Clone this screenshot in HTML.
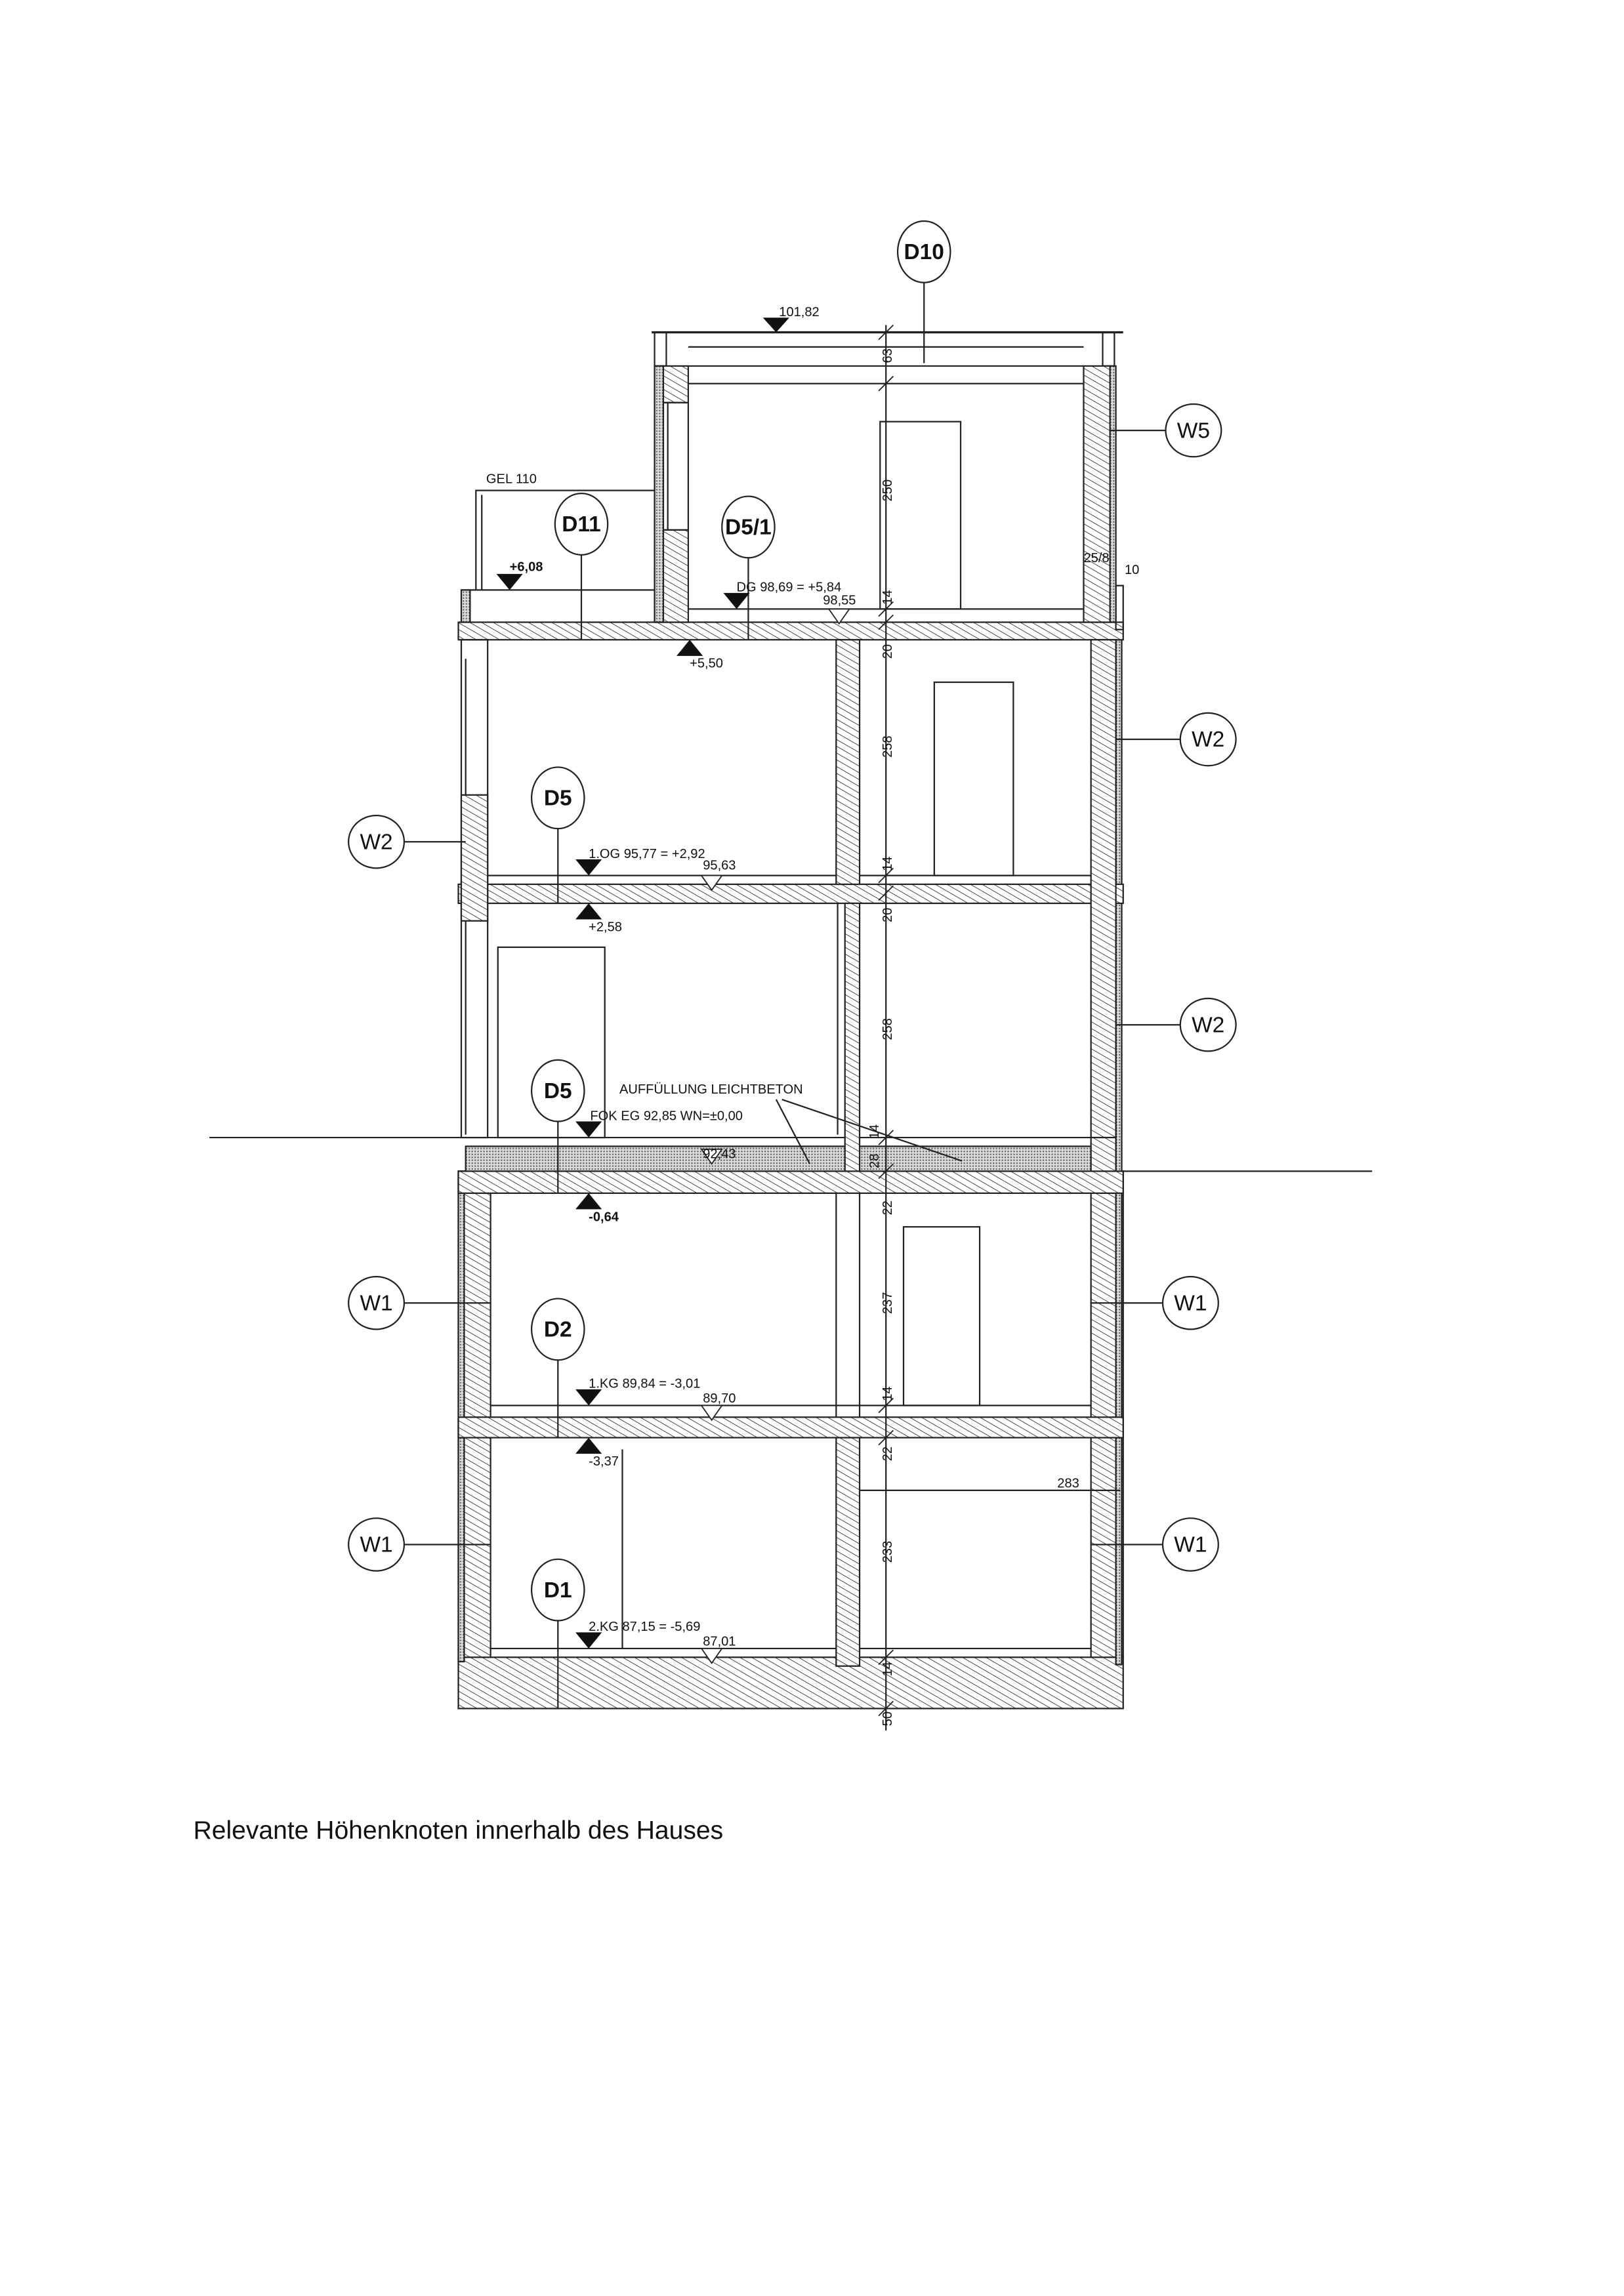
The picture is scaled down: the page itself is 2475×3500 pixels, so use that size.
<!DOCTYPE html>
<html><head><meta charset="utf-8"><style>
html,body{margin:0;padding:0;background:#fff}
svg{display:block}
text{font-family:"Liberation Sans",sans-serif;fill:#111}
</style></head><body>
<svg width="2475" height="3500" viewBox="0 0 1109 1568" preserveAspectRatio="xMinYMin meet" xmlns="http://www.w3.org/2000/svg">
<defs>
<pattern id="h" width="4" height="4" patternUnits="userSpaceOnUse" patternTransform="rotate(-60)">
<rect width="4" height="4" fill="#fff"/><line x1="0" y1="0" x2="0" y2="4" stroke="#333" stroke-width="0.8"/></pattern>
<pattern id="d" width="2" height="2" patternUnits="userSpaceOnUse">
<rect width="2" height="2" fill="#ddd"/><rect width="1" height="1" fill="#666"/></pattern>
</defs>
<g stroke="#222" stroke-width="1" fill="none">
<line x1="143" y1="777" x2="318" y2="777"/>
<line x1="765" y1="800" x2="937" y2="800"/>
<rect x="313" y="1132" width="454" height="35" fill="url(#h)"/>
<rect x="313" y="800" width="22" height="332" fill="url(#h)"/>
<rect x="745" y="800" width="22" height="332" fill="url(#h)"/>
<rect x="762" y="437" width="4" height="700" fill="url(#d)"/>
<rect x="313" y="800" width="4" height="335" fill="url(#d)"/>
<rect x="313" y="968" width="454" height="14" fill="url(#h)"/>
<line x1="335" y1="960" x2="745" y2="960"/>
<line x1="335" y1="1126" x2="745" y2="1126"/>
<rect x="313" y="800" width="454" height="15" fill="url(#h)"/>
<rect x="318" y="783" width="427" height="17" fill="url(#d)"/>
<line x1="318" y1="777" x2="745" y2="777"/>
<rect x="313" y="604" width="454" height="13" fill="url(#h)"/>
<line x1="333" y1="598" x2="745" y2="598"/>
<rect x="313" y="425" width="454" height="12" fill="url(#h)"/>
<line x1="470" y1="416" x2="740" y2="416"/>
<rect x="315" y="437" width="18" height="340"/>
<rect x="315" y="543" width="18" height="86" fill="url(#h)"/>
<line x1="318" y1="450" x2="318" y2="543"/><line x1="318" y1="629" x2="318" y2="775"/>
<rect x="745" y="437" width="17" height="340" fill="url(#h)"/>
<rect x="745" y="777" width="17" height="23" fill="url(#h)"/>
<rect x="571" y="437" width="16" height="167" fill="url(#h)"/>
<rect x="577" y="617" width="10" height="183" fill="url(#h)"/>
<line x1="572" y1="617" x2="572" y2="775"/>
<line x1="571" y1="815" x2="571" y2="968"/><line x1="587" y1="815" x2="587" y2="968"/>
<rect x="571" y="982" width="16" height="156" fill="url(#h)"/>
<line x1="425" y1="990" x2="425" y2="1126"/>
<line x1="445" y1="227" x2="767" y2="227" stroke-width="1.5"/>
<line x1="470" y1="237" x2="740" y2="237"/>
<line x1="470" y1="250" x2="740" y2="250"/>
<line x1="470" y1="262" x2="740" y2="262"/>
<rect x="447" y="227" width="8" height="23"/><rect x="753" y="227" width="8" height="23"/>
<rect x="447" y="250" width="23" height="25" fill="url(#h)"/>
<rect x="447" y="275" width="23" height="87"/>
<line x1="456" y1="275" x2="456" y2="362"/>
<rect x="447" y="362" width="23" height="63" fill="url(#h)"/>
<rect x="447" y="250" width="6" height="175" fill="url(#d)"/>
<rect x="740" y="250" width="18" height="175" fill="url(#h)"/>
<rect x="758" y="250" width="4" height="175" fill="url(#d)"/>
<rect x="762" y="400" width="5" height="30"/>
<polyline points="325,403 325,335 447,335"/>
<line x1="329" y1="338" x2="329" y2="403"/>
<line x1="315" y1="403" x2="447" y2="403"/>
<rect x="315" y="403" width="6" height="22" fill="url(#d)"/>
<rect x="601" y="288" width="55" height="128"/>
<rect x="638" y="466" width="54" height="132"/>
<rect x="340" y="647" width="73" height="130"/>
<rect x="617" y="838" width="52" height="122"/>
<line x1="605" y1="222" x2="605" y2="1182"/>
<g stroke-width="0.8">
<line x1="600" y1="232" x2="610" y2="222"/><line x1="600" y1="267" x2="610" y2="257"/>
<line x1="600" y1="421" x2="610" y2="411"/><line x1="600" y1="430" x2="610" y2="420"/>
<line x1="600" y1="603" x2="610" y2="593"/><line x1="600" y1="615" x2="610" y2="605"/>
<line x1="600" y1="782" x2="610" y2="772"/><line x1="600" y1="805" x2="610" y2="795"/>
<line x1="600" y1="965" x2="610" y2="955"/><line x1="600" y1="987" x2="610" y2="977"/>
<line x1="600" y1="1137" x2="610" y2="1127"/><line x1="600" y1="1172" x2="610" y2="1162"/>
</g>
<line x1="587" y1="1018" x2="765" y2="1018"/>
<line x1="530" y1="751" x2="553" y2="795"/>
<line x1="534" y1="751" x2="657" y2="793"/>
<line x1="631" y1="193" x2="631" y2="248"/>
<line x1="758" y1="294" x2="796" y2="294"/>
<line x1="397" y1="379" x2="397" y2="437"/>
<line x1="511" y1="381" x2="511" y2="437"/>
<line x1="762" y1="505" x2="806" y2="505"/>
<line x1="276" y1="575" x2="318" y2="575"/>
<line x1="381" y1="566" x2="381" y2="617"/>
<line x1="762" y1="700" x2="806" y2="700"/>
<line x1="381" y1="766" x2="381" y2="815"/>
<line x1="276" y1="890" x2="335" y2="890"/>
<line x1="745" y1="890" x2="794" y2="890"/>
<line x1="381" y1="929" x2="381" y2="982"/>
<line x1="276" y1="1055" x2="335" y2="1055"/>
<line x1="745" y1="1055" x2="794" y2="1055"/>
<line x1="381" y1="1107" x2="381" y2="1167"/>
<g fill="#fff">
<ellipse cx="631" cy="172" rx="18" ry="21"/>
<ellipse cx="815" cy="294" rx="19" ry="18"/>
<ellipse cx="397" cy="358" rx="18" ry="21"/>
<ellipse cx="511" cy="360" rx="18" ry="21"/>
<ellipse cx="825" cy="505" rx="19" ry="18"/>
<ellipse cx="257" cy="575" rx="19" ry="18"/>
<ellipse cx="381" cy="545" rx="18" ry="21"/>
<ellipse cx="825" cy="700" rx="19" ry="18"/>
<ellipse cx="381" cy="745" rx="18" ry="21"/>
<ellipse cx="257" cy="890" rx="19" ry="18"/>
<ellipse cx="813" cy="890" rx="19" ry="18"/>
<ellipse cx="381" cy="908" rx="18" ry="21"/>
<ellipse cx="257" cy="1055" rx="19" ry="18"/>
<ellipse cx="813" cy="1055" rx="19" ry="18"/>
<ellipse cx="381" cy="1086" rx="18" ry="21"/>
</g>
<line x1="510" y1="227" x2="550" y2="227"/>
</g>
<g fill="#111">
<polygon points="521,217 539,217 530,227"/>
<polygon points="339,392 357,392 348,403"/>
<polygon points="494,405 512,405 503,416"/>
<polygon points="462,448 480,448 471,437"/>
<polygon points="393,587 411,587 402,598"/>
<polygon points="393,628 411,628 402,617"/>
<polygon points="393,766 411,766 402,777"/>
<polygon points="393,826 411,826 402,815"/>
<polygon points="393,949 411,949 402,960"/>
<polygon points="393,993 411,993 402,982"/>
<polygon points="393,1115 411,1115 402,1126"/>
</g>
<g fill="#fff" stroke="#222" stroke-width="0.8">
<polygon points="566,416 580,416 573,426"/>
<polygon points="479,598 493,598 486,608"/>
<polygon points="479,785 493,785 486,795"/>
<polygon points="479,960 493,960 486,970"/>
<polygon points="479,1126 493,1126 486,1136"/>
</g>
<g font-size="15" text-anchor="middle">
<text x="631" y="177" font-weight="bold">D10</text>
<text x="815" y="299">W5</text>
<text x="397" y="363" font-weight="bold">D11</text>
<text x="511" y="365" font-weight="bold">D5/1</text>
<text x="825" y="510">W2</text>
<text x="257" y="580">W2</text>
<text x="381" y="550" font-weight="bold">D5</text>
<text x="825" y="705">W2</text>
<text x="381" y="750" font-weight="bold">D5</text>
<text x="257" y="895">W1</text>
<text x="813" y="895">W1</text>
<text x="381" y="913" font-weight="bold">D2</text>
<text x="257" y="1060">W1</text>
<text x="813" y="1060">W1</text>
<text x="381" y="1091" font-weight="bold">D1</text>
</g>
<g font-size="9">
<text x="532" y="216">101,82</text>
<text x="348" y="390" font-weight="bold">+6,08</text>
<text x="503" y="404">DG 98,69 = +5,84</text>
<text x="562" y="413">98,55</text>
<text x="471" y="456">+5,50</text>
<text x="402" y="586">1.OG 95,77 = +2,92</text>
<text x="480" y="594">95,63</text>
<text x="402" y="636">+2,58</text>
<text x="403" y="765">FOK EG  92,85 WN=±0,00</text>
<text x="480" y="791">92,43</text>
<text x="402" y="834" font-weight="bold">-0,64</text>
<text x="402" y="948">1.KG 89,84 = -3,01</text>
<text x="480" y="958">89,70</text>
<text x="402" y="1001">-3,37</text>
<text x="402" y="1114">2.KG 87,15 = -5,69</text>
<text x="480" y="1124">87,01</text>
<text x="423" y="747">AUFFÜLLUNG LEICHTBETON</text>
<text x="722" y="1016">283</text>
<text x="332" y="330">GEL 110</text>
<text x="740" y="384">25/8</text>
<text x="768" y="392">10</text>
</g>
<g font-size="9" text-anchor="middle">
<text transform="translate(609,243) rotate(-90)">63</text>
<text transform="translate(609,335) rotate(-90)">250</text>
<text transform="translate(609,408) rotate(-90)">14</text>
<text transform="translate(609,445) rotate(-90)">20</text>
<text transform="translate(609,510) rotate(-90)">258</text>
<text transform="translate(609,590) rotate(-90)">14</text>
<text transform="translate(609,625) rotate(-90)">20</text>
<text transform="translate(609,703) rotate(-90)">258</text>
<text transform="translate(600,773) rotate(-90)">14</text>
<text transform="translate(600,793) rotate(-90)">28</text>
<text transform="translate(609,825) rotate(-90)">22</text>
<text transform="translate(609,890) rotate(-90)">237</text>
<text transform="translate(609,952) rotate(-90)">14</text>
<text transform="translate(609,993) rotate(-90)">22</text>
<text transform="translate(609,1060) rotate(-90)">233</text>
<text transform="translate(609,1140) rotate(-90)">14</text>
<text transform="translate(609,1174) rotate(-90)">50</text>
</g>
<text x="132" y="1256" font-size="17.5">Relevante Höhenknoten innerhalb des Hauses</text>
</svg>
</body></html>
